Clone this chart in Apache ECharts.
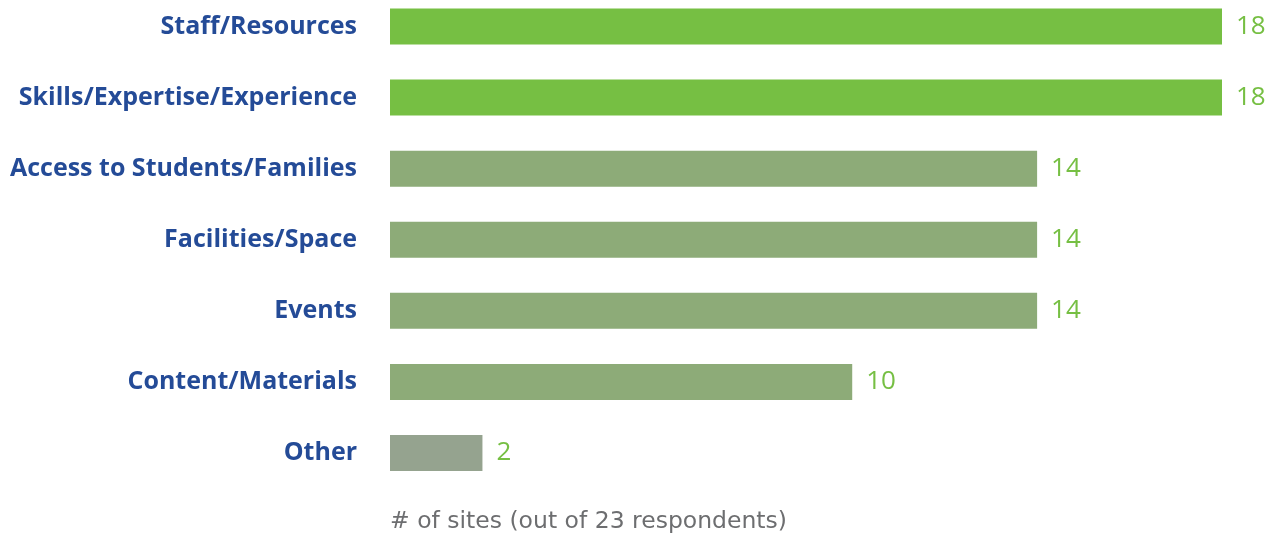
<!DOCTYPE html>
<html>
<head>
<meta charset="utf-8">
<script src="https://cdn.jsdelivr.net/npm/echarts@6/dist/echarts.min.js"></script>
<style>
html, body { margin: 0; padding: 0; background: #fff; overflow: hidden; }
/* shifted up so the first band starts above the page edge, as in the original */
#chart { position: relative; top: -9px; width: 1272px; height: 544px; }
</style>
</head>
<body>
<div id="chart"></div>
<script>
// categories top to bottom
var categories = ['Staff/Resources', 'Skills/Expertise/Experience', 'Access to Students/Families',
  'Facilities/Space', 'Events', 'Content/Materials', 'Other'];
var siteCounts = [18, 18, 14, 14, 14, 10, 2];
var barColors = ['#76bf43', '#76bf43', '#8dab78', '#8dab78', '#8dab78', '#8dab78', '#95a38f'];
var axisNote = '# of sites (out of 23 respondents)';

var chart = echarts.init(document.getElementById('chart'));

var option = {
  animation: false,
  title: {
    text: axisNote,
    left: 385,
    top: 514,
    textStyle: { fontFamily: 'DejaVu Sans', fontWeight: 'normal', fontSize: 23.5, color: '#6d6e70' }
  },
  grid: { left: 390, right: 50, top: 0, bottom: 46.5 },
  xAxis: {
    type: 'value',
    min: 0,
    max: 18,
    show: false
  },
  yAxis: {
    type: 'category',
    data: categories,
    inverse: true,
    axisLine: { show: false },
    axisTick: { show: false },
    axisLabel: {
      margin: 33,
      fontFamily: 'Open Sans',
      fontWeight: 'bold',
      fontSize: 25,
      color: '#244b97'
    }
  },
  series: [{
    type: 'bar',
    barWidth: 36,
    data: siteCounts.map(function (v, i) {
      return { value: v, itemStyle: { color: barColors[i] } };
    }),
    label: {
      show: true,
      position: 'right',
      distance: 14,
      fontFamily: 'Open Sans',
      fontSize: 26,
      color: '#76bf43'
    }
  }]
};

chart.setOption(option);
</script>
</body>
</html>
